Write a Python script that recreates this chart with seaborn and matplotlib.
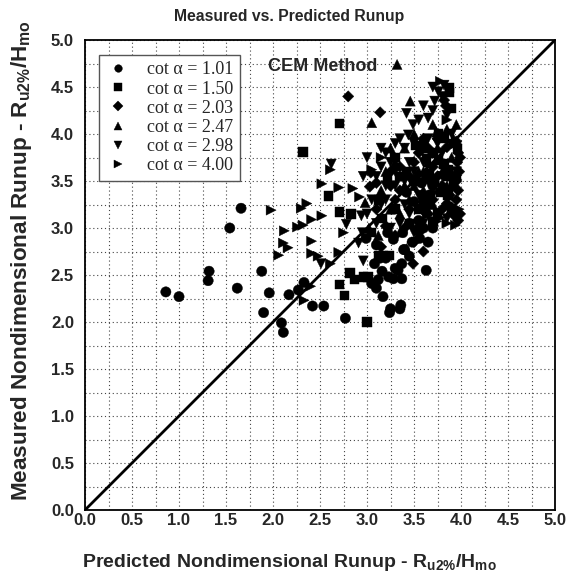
import matplotlib
matplotlib.use("Agg")
import matplotlib.pyplot as plt
import seaborn as sns
import pandas as pd
import numpy as np
from matplotlib.ticker import MultipleLocator

# ---- data ----
series_labels = ["cot α = 1.01", "cot α = 1.50", "cot α = 2.03",
                 "cot α = 2.47", "cot α = 2.98", "cot α = 4.00"]

c101_x = [0.86, 1.00, 1.31, 1.32, 1.54, 1.66, 1.62, 1.88, 1.96, 1.90, 2.09, 2.11, 2.17, 2.27, 2.33,
          2.42, 2.54, 2.77, 3.24, 3.25, 3.35, 3.36, 3.63, 3.17, 3.10, 3.12, 3.05, 3.37, 3.28, 3.23,
          3.16, 3.33, 3.40, 3.37, 2.99, 3.53, 3.56, 3.39, 3.14, 3.30, 3.08, 3.20, 3.45, 3.48, 3.28,
          3.55, 3.62, 3.50, 3.66, 3.58, 3.42, 3.70, 3.10, 3.22, 3.60, 3.45, 3.38, 3.65, 3.70]
c101_y = [2.32, 2.27, 2.44, 2.54, 3.00, 3.21, 2.36, 2.54, 2.31, 2.10, 1.99, 1.89, 2.29, 2.34, 2.42,
          2.17, 2.17, 2.04, 2.10, 2.14, 2.14, 2.18, 2.55, 2.27, 2.36, 2.45, 2.41, 2.46, 2.46, 2.48,
          2.54, 2.55, 2.77, 2.62, 2.89, 2.98, 2.89, 2.77, 2.68, 2.57, 2.62, 2.68, 2.70, 2.85, 2.88,
          3.08, 3.18, 3.28, 3.35, 3.48, 3.38, 3.45, 2.82, 2.95, 3.00, 3.05, 2.95, 2.85, 3.00]

s150_x = [2.71, 2.32, 2.59, 2.71, 2.83, 2.82, 2.87, 2.96, 2.71, 2.76, 3.00, 3.01, 3.12, 3.17, 3.24,
          3.88, 3.88, 3.90, 3.70, 3.63, 3.81, 3.86, 3.60, 3.70, 3.76, 3.82, 3.86, 3.66, 3.72, 3.78,
          3.60, 3.55, 3.92, 3.96, 3.76, 3.30, 3.22, 3.12, 3.16, 3.30, 3.42, 3.86, 3.92, 3.52, 3.82,
          3.05, 3.90, 3.45, 3.50, 3.35, 3.65, 3.75, 3.95]
s150_y = [4.11, 3.81, 3.34, 3.17, 3.15, 2.52, 2.45, 2.48, 2.40, 2.28, 2.00, 2.48, 2.70, 2.71, 2.71,
          4.49, 4.44, 4.27, 3.07, 3.74, 3.42, 3.35, 3.90, 3.80, 3.72, 3.68, 3.62, 3.58, 3.50, 3.38,
          3.30, 3.20, 3.90, 3.84, 4.00, 3.75, 3.52, 3.30, 3.10, 3.20, 3.60, 3.55, 3.45, 3.88, 3.95,
          2.95, 3.20, 3.05, 3.50, 3.55, 3.25, 3.15, 3.55]

d203_x = [2.80, 3.14, 3.82, 3.04, 3.03, 3.49, 3.95, 3.97, 3.96, 3.98, 3.95, 3.97, 3.94, 3.97, 3.92,
          3.90, 3.85, 3.95, 3.90, 3.85, 3.60, 3.55, 3.50, 3.45, 3.35, 3.30, 3.25, 3.10, 3.10, 3.20,
          3.40, 3.45, 3.60, 3.70, 3.75, 3.80, 3.70, 3.65, 3.55, 3.50, 3.30, 3.60, 3.15, 3.84, 3.99,
          3.99, 3.35, 3.25, 3.80, 3.88, 3.65, 3.75]
d203_y = [4.40, 4.23, 4.36, 3.59, 3.44, 2.62, 3.92, 3.80, 3.70, 3.60, 3.50, 3.40, 3.12, 3.08, 3.16,
          3.22, 3.26, 3.30, 3.56, 3.86, 3.95, 3.80, 3.70, 3.55, 3.40, 3.30, 3.45, 3.48, 3.20, 3.02,
          3.00, 3.20, 3.50, 3.65, 3.55, 3.20, 3.30, 3.15, 2.95, 2.85, 2.92, 2.75, 2.80, 4.30, 3.15,
          3.75, 3.65, 3.60, 3.45, 3.35, 3.85, 3.95]

t247_x = [3.32, 3.46, 3.05, 3.74, 3.50, 3.60, 3.30, 3.40, 3.20, 3.55, 3.65, 3.75, 3.85, 3.90, 3.45,
          3.35, 3.60, 3.70, 3.25, 3.50, 3.80, 3.15, 2.98, 3.02, 3.12, 3.42, 3.55, 3.92, 3.95, 3.70,
          3.88, 3.40, 3.60, 3.25, 3.85]
t247_y = [4.74, 4.35, 4.12, 4.02, 4.00, 3.85, 3.70, 3.85, 3.60, 3.60, 3.70, 3.85, 4.05, 3.75, 3.30,
          3.15, 3.40, 3.25, 3.20, 3.45, 3.60, 3.40, 3.27, 3.00, 2.92, 2.78, 3.05, 3.95, 4.10, 4.10,
          3.18, 3.45, 3.60, 3.85, 3.45]

v298_x = [3.42, 3.65, 3.49, 3.44, 2.62, 2.96, 2.94, 2.78, 2.51, 2.91, 2.96, 3.70, 3.76, 3.80, 3.60,
          3.55, 3.70, 3.30, 3.35, 3.40, 3.50, 3.20, 3.25, 3.15, 3.30, 3.10, 3.20, 3.40, 3.50, 3.60,
          3.65, 3.75, 3.85, 3.90, 3.80, 3.65, 3.55, 3.45, 3.35, 3.05, 3.00, 3.10, 3.25, 3.20, 3.70,
          3.60, 3.50, 3.15, 3.00, 3.85, 3.95, 2.95, 3.82, 3.72, 3.45, 3.55, 3.30, 3.15, 3.40, 3.80]
v298_y = [4.22, 4.17, 4.10, 3.99, 3.68, 3.55, 3.13, 3.04, 2.62, 2.84, 2.65, 4.50, 4.45, 4.40, 4.30,
          4.15, 4.25, 3.90, 3.95, 3.85, 3.90, 3.80, 3.70, 3.65, 3.60, 3.55, 3.45, 3.50, 3.60, 3.70,
          3.95, 3.90, 4.20, 4.00, 3.80, 3.50, 3.35, 3.15, 3.05, 3.30, 3.15, 3.05, 3.00, 3.30, 3.35,
          3.05, 2.95, 3.85, 3.75, 3.10, 3.60, 2.95, 4.52, 4.35, 3.70, 3.55, 3.45, 3.25, 3.25, 3.55]

r400_x = [1.98, 2.06, 2.52, 2.70, 2.61, 2.36, 2.30, 2.52, 2.41, 2.32, 2.26, 2.12, 2.11, 2.41, 2.16,
          2.41, 2.48, 2.61, 2.70, 2.40, 2.33, 3.78, 3.74, 3.85, 3.94, 3.64, 3.78, 2.85, 2.92, 3.05,
          3.15, 2.75, 3.85, 3.95, 3.98]
r400_y = [3.19, 2.71, 3.47, 3.43, 3.62, 3.26, 3.21, 3.13, 3.09, 3.03, 3.01, 2.97, 2.84, 2.86, 2.79,
          2.73, 2.70, 2.62, 2.74, 2.38, 2.23, 4.56, 3.07, 3.05, 3.03, 3.14, 3.11, 3.42, 3.33, 3.62,
          3.75, 2.95, 4.15, 3.90, 3.20]

xs = [c101_x, s150_x, d203_x, t247_x, v298_x, r400_x]
ys = [c101_y, s150_y, d203_y, t247_y, v298_y, r400_y]
frames = [pd.DataFrame({"pred": x, "meas": y, "series": lab})
          for x, y, lab in zip(xs, ys, series_labels)]
df = pd.concat(frames, ignore_index=True)

axis_ticks = [0.0, 0.5, 1.0, 1.5, 2.0, 2.5, 3.0, 3.5, 4.0, 4.5, 5.0]

# ---- style ----
sns.set_style("white")
plt.rcParams["font.family"] = ["Liberation Sans", "DejaVu Sans"]
plt.rcParams["font.weight"] = "bold"
plt.rcParams["mathtext.fontset"] = "custom"
plt.rcParams["mathtext.rm"] = "Liberation Sans:bold"
plt.rcParams["mathtext.it"] = "Liberation Sans:bold"
plt.rcParams["mathtext.bf"] = "Liberation Sans:bold"
plt.rcParams["mathtext.default"] = "rm"

fig = plt.figure(figsize=(5.78, 5.80), dpi=100)
ax = fig.add_axes([85 / 578, 1 - 510 / 580, 470 / 578, 470 / 580])

markers = {series_labels[0]: "o", series_labels[1]: "s", series_labels[2]: "D",
           series_labels[3]: "^", series_labels[4]: "v", series_labels[5]: ">"}
msizes = {series_labels[0]: 55, series_labels[1]: 46, series_labels[2]: 33,
          series_labels[3]: 52, series_labels[4]: 52, series_labels[5]: 52}

sns.scatterplot(data=df, x="pred", y="meas", style="series", style_order=series_labels,
                size="series", sizes=msizes, size_order=series_labels,
                markers=markers, color="black", edgecolor="black",
                linewidth=0.3, ax=ax, zorder=3, legend="full")

# 1:1 line
ax.plot([0, 5], [0, 5], color="black", lw=2.0, zorder=4)

ax.set_xlim(0, 5)
ax.set_ylim(0, 5)
ax.set_xticks(axis_ticks)
ax.set_yticks(axis_ticks)
ax.set_xticklabels([f"{t:.1f}" for t in axis_ticks])
ax.set_yticklabels([f"{t:.1f}" for t in axis_ticks])
ax.xaxis.set_minor_locator(MultipleLocator(0.25))
ax.yaxis.set_minor_locator(MultipleLocator(0.25))
ax.grid(True, which="both", linestyle=(0, (1, 2.5)), color="#444444", linewidth=0.8, zorder=0)
ax.set_axisbelow(True)
ax.tick_params(axis="both", which="both", length=0, labelsize=12)
ax.tick_params(axis="x", pad=2.5)
ax.tick_params(axis="y", pad=8)
for lab in ax.get_xticklabels() + ax.get_yticklabels():
    lab.set_fontweight("bold")
for sp in ax.spines.values():
    sp.set_visible(True)
    sp.set_color("black")
    sp.set_linewidth(1.3)

ax.set_xlabel(r"Predicted Nondimensional Runup - R$_{u2\%}$/H$_{mo}$",
              fontsize=14, fontweight="bold")
ax.xaxis.set_label_coords((289 - 85) / 470, -(552 - 510) / 470)
ax.set_ylabel(r"Measured Nondimensional Runup - R$_{u2\%}$/H$_{mo}$",
              fontsize=16.2, fontweight="bold")
ax.yaxis.set_label_coords(-(85 - 34) / 470, (510 - 261) / 470)
fig.text(0.5, 1 - 16 / 580, "Measured vs. Predicted Runup", fontsize=11.3,
         fontweight="bold", ha="center", va="center")

ax.text(1.95, 4.72, "CEM Method", fontsize=13, fontweight="bold", ha="left", va="center",
        zorder=5)

# legend
old = ax.get_legend()
handles = old.legend_handles
labels = [t.get_text() for t in old.get_texts()]
old.remove()
pairs = [(h, l) for h, l in zip(handles, labels) if l in series_labels]
handles = [p[0] for p in pairs]
labels = [p[1] for p in pairs]
for h, l in zip(handles, labels):
    h.set_markersize(5.5 if l != series_labels[2] else 4.8)
leg = ax.legend(handles, labels, loc="upper left", bbox_to_anchor=(0.03, 0.968),
                frameon=True, fancybox=False, framealpha=1, edgecolor="#555555",
                prop={"family": ["Liberation Serif", "DejaVu Serif"], "size": 13, "weight": "normal"},
                labelspacing=0.12, handletextpad=0.9, borderpad=0.35, handlelength=1.4,
                borderaxespad=0)
leg.get_frame().set_linewidth(1.0)

fig.savefig("out.png", dpi=100)
